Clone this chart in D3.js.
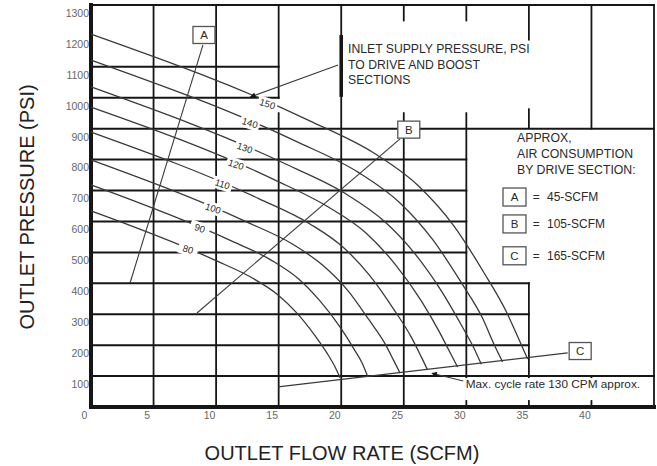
<!DOCTYPE html>
<html><head><meta charset="utf-8">
<script src="https://cdn.jsdelivr.net/npm/d3@7"></script>
<style>
body{margin:0;background:#fff}
svg{display:block;font-family:"Liberation Sans",Arial,Helvetica,sans-serif}
</style>
</head><body>
<svg id="chart" width="657" height="466"></svg>
<script>
// ---------------- data ----------------
const flowTicks = [0, 5, 10, 15, 20, 25, 30, 35, 40];
const psiTicks = [100, 200, 300, 400, 500, 600, 700, 800, 900, 1000, 1100, 1200, 1300];
const curveNames = ["80", "90", "100", "110", "120", "130", "140", "150"];
// [flow SCFM, outlet pressure PSI]
const c80  = [[0,634],[9.9,475],[12.9,417],[14.9,364],[16.5,302],[17.9,231],[18.9,172],[19.5,130],[19.9,95]];
const c90  = [[0,718],[11.0,541],[14.4,475],[16.6,414],[18.3,343],[19.9,259],[21.0,189],[21.7,140],[22.1,100]];
const c100 = [[0,799],[12.3,601],[16.1,527],[18.5,459],[20.5,378],[22.2,283],[23.5,205],[24.2,150],[24.7,110]];
const c110 = [[0,889],[13.4,674],[17.5,592],[20.2,515],[22.3,424],[24.2,316],[25.6,226],[26.4,162],[26.9,120]];
const c120 = [[0,970],[14.6,736],[19.0,646],[22.0,562],[24.3,462],[26.4,343],[27.8,246],[28.7,176],[29.3,129]];
const c130 = [[0,1035],[15.6,785],[20.3,691],[23.4,602],[25.9,495],[28.1,369],[29.6,265],[30.6,191],[31.2,138]];
const c140 = [[0,1122],[16.4,859],[21.4,758],[24.7,660],[27.3,542],[29.6,402],[31.3,287],[32.2,204],[32.9,146]];
const c150 = [[0,1206],[17.4,927],[22.7,819],[26.2,714],[29.0,586],[31.4,435],[33.2,308],[34.2,219],[34.9,155]];
const curveLabelFlow = [7.75, 8.7, 9.75, 10.5, 11.6, 12.3, 12.7, 14.1];
// grid segments: [psi, fromFlow, toFlow] and [flow, fromPsi, toPsi]
const hGrid = [[1300,0,45],[1100,0,15],[1000,0,15],[900,0,45],[800,0,30],[700,0,30],[600,0,30],[500,0,30],[400,0,35],[300,0,35],[200,0,35],[100,0,45]];
const vGrid = [[5,0,1300],[10,0,1300],[15,1000,1300],[15,0,950],[20,0,1300],[25,1250,1300],[25,0,950],[30,1250,1300],[30,0,950],[35,1188,1300],[35,902,1025],[35,0,400],[40,900,1300],[40,0,100],[45,0,1300]];
const driveSections = ["A", "B", "C"];
const driveConsumption = ["45-SCFM", "105-SCFM", "165-SCFM"];

// ---------------- drawing ----------------
const svg = d3.select("#chart");
const x = d3.scaleLinear().domain([0, 45]).range([91, 654]);
const y = d3.scaleLinear().domain([0, 1300]).range([407, 5]);
const ink = "#161616", soft = "#3a3a3a", txt = "#2a2a2a";
const FONT = '"Liberation Sans",Arial,Helvetica,sans-serif';

svg.append("rect").attr("width", 657).attr("height", 466).attr("fill", "#fff");

const defs = svg.append("defs");
defs.append("marker").attr("id", "ah").attr("viewBox", "0 0 10 10").attr("refX", 9).attr("refY", 5)
  .attr("markerWidth", 7).attr("markerHeight", 5).attr("orient", "auto")
  .append("path").attr("d", "M0,0L10,5L0,10Z").attr("fill", ink);

// grid
const grid = svg.append("g");
grid.selectAll("line.h").data(hGrid).join("line").attr("class", "h")
  .attr("x1", d => x(d[1])).attr("x2", d => x(d[2]))
  .attr("y1", d => y(d[0])).attr("y2", d => y(d[0]))
  .attr("stroke", ink).attr("stroke-width", 2).attr("stroke-linecap", "square");
grid.selectAll("line.v").data(vGrid).join("line").attr("class", "v")
  .attr("x1", d => x(d[0])).attr("x2", d => x(d[0]))
  .attr("y1", d => y(d[1])).attr("y2", d => y(d[2]))
  .attr("stroke", ink).attr("stroke-width", 1.8).attr("stroke-linecap", "square");
// main axes (thick)
grid.append("line").attr("x1", x(0)).attr("x2", x(0)).attr("y1", y(0)).attr("y2", y(1300))
  .attr("stroke", ink).attr("stroke-width", 4).attr("stroke-linecap", "square");
grid.append("line").attr("x1", x(0)).attr("x2", x(45)).attr("y1", y(0)).attr("y2", y(0))
  .attr("stroke", ink).attr("stroke-width", 4).attr("stroke-linecap", "square");

// curves
const curves = [c80, c90, c100, c110, c120, c130, c140, c150];
const line = d3.line().x(d => x(d[0])).y(d => y(d[1])).curve(d3.curveMonotoneX);
svg.append("g").selectAll("path").data(curves).join("path")
  .attr("d", line).attr("fill", "none").attr("stroke", soft).attr("stroke-width", 1.3);

// leader lines
const leaders = svg.append("g").attr("stroke", soft).attr("stroke-width", 1.1);
leaders.append("line").attr("x1", x(8.95)).attr("y1", y(1171)).attr("x2", x(3.12)).attr("y2", y(401));
leaders.append("line").attr("x1", x(24.7)).attr("y1", y(867)).attr("x2", x(8.47)).attr("y2", y(304));
leaders.append("line").attr("x1", x(38.1)).attr("y1", y(175)).attr("x2", x(14.95)).attr("y2", y(65));

// inlet-pressure bar, text block and arrow
svg.append("rect").attr("x", x(20.55) - 3).attr("y", y(1134)).attr("width", 198).attr("height", 52).attr("fill", "#fff");
svg.append("line").attr("x1", x(20)).attr("x2", x(20)).attr("y1", y(1203)).attr("y2", y(1003))
  .attr("stroke", ink).attr("stroke-width", 3.6);
svg.append("line").attr("x1", x(19.75)).attr("y1", y(1106)).attr("x2", x(12.75)).attr("y2", y(1003))
  .attr("stroke", soft).attr("stroke-width", 1.1).attr("marker-end", "url(#ah)");
const inlet = svg.append("text").attr("x", x(20.55)).attr("y", y(1144))
  .attr("font-size", 12.2).attr("fill", txt).attr("font-family", FONT);
["INLET SUPPLY PRESSURE, PSI", "TO DRIVE AND BOOST", "SECTIONS"].forEach((s, i) =>
  inlet.append("tspan").attr("x", x(20.55)).attr("dy", i ? 15.5 : 0).text(s));

// max cycle rate note
svg.append("rect").attr("x", x(29.9)).attr("y", y(100) + 2).attr("width", x(45) - x(29.9) - 1).attr("height", 22).attr("fill", "#fff");
svg.append("text").attr("x", x(29.95)).attr("y", y(62)).attr("font-size", 11.8).attr("fill", txt)
  .attr("font-family", FONT).text("Max. cycle rate 130 CPM approx.");
svg.append("line").attr("x1", x(29.75)).attr("y1", y(84)).attr("x2", x(27.25)).attr("y2", y(109))
  .attr("stroke", soft).attr("stroke-width", 1.1).attr("marker-end", "url(#ah)");

// curve labels
function interp(pts, f) {
  for (let i = 1; i < pts.length; i++) {
    if (f <= pts[i][0]) {
      const t = (f - pts[i-1][0]) / (pts[i][0] - pts[i-1][0]);
      return pts[i-1][1] + t * (pts[i][1] - pts[i-1][1]);
    }
  }
  return pts[pts.length - 1][1];
}
const lab = svg.append("g");
curves.forEach((pts, i) => {
  const f = curveLabelFlow[i], p = interp(pts, f);
  const gg = lab.append("g").attr("transform", `translate(${x(f)},${y(p)}) rotate(18)`);
  gg.append("rect").attr("x", -10).attr("y", -6).attr("width", 20).attr("height", 12).attr("fill", "#fff");
  gg.append("text").attr("text-anchor", "middle").attr("dy", "0.35em").attr("font-size", 9.5)
    .attr("fill", txt).attr("font-family", FONT).text(curveNames[i]);
});

// A / B / C boxes on chart
const boxPos = [[9.03, 1203], [25.4, 897], [39.1, 181]];
const boxes = svg.append("g");
boxPos.forEach((bp, i) => {
  const gg = boxes.append("g").attr("transform", `translate(${x(bp[0])},${y(bp[1])})`);
  gg.append("rect").attr("x", -11).attr("y", -8.5).attr("width", 22).attr("height", 17)
    .attr("fill", "#fff").attr("stroke", "#555").attr("stroke-width", 1.3);
  gg.append("text").attr("text-anchor", "middle").attr("dy", "0.36em").attr("font-size", 11.5)
    .attr("fill", txt).attr("font-family", FONT).text(driveSections[i]);
});

// legend
const leg = svg.append("text").attr("x", x(34.05)).attr("y", y(857)).attr("font-size", 12.3)
  .attr("fill", txt).attr("font-family", FONT);
["APPROX,", "AIR CONSUMPTION", "BY DRIVE SECTION:"].forEach((s, i) =>
  leg.append("tspan").attr("x", x(34.05)).attr("dy", i ? 16 : 0).text(s));
const legRows = [679, 592, 489];
legRows.forEach((p, i) => {
  const gg = svg.append("g").attr("transform", `translate(0,${y(p)})`);
  gg.append("rect").attr("x", x(32.93)).attr("y", -9).attr("width", 23).attr("height", 18)
    .attr("fill", "#fff").attr("stroke", "#555").attr("stroke-width", 1.3);
  gg.append("text").attr("x", x(32.93) + 11.5).attr("text-anchor", "middle").attr("dy", "0.36em")
    .attr("font-size", 11.5).attr("fill", txt).attr("font-family", FONT).text(driveSections[i]);
  gg.append("text").attr("x", x(35.3)).attr("dy", "0.36em").attr("font-size", 12)
    .attr("fill", txt).attr("font-family", FONT).text("=");
  gg.append("text").attr("x", x(36.45)).attr("dy", "0.36em").attr("font-size", 12)
    .attr("fill", txt).attr("font-family", FONT).text(driveConsumption[i]);
});

// axes tick labels (offset from the grid like the original print)
const ya = svg.append("g").attr("transform", `translate(${x(0) - 2},8)`)
  .call(d3.axisLeft(y).tickValues(psiTicks).tickFormat(d3.format("d")).tickSize(0).tickPadding(0));
ya.select(".domain").remove();
ya.attr("font-family", FONT).attr("font-size", 10.5).selectAll("text").attr("fill", "#666");
const xa = svg.append("g").attr("transform", `translate(-7,${y(0)})`)
  .call(d3.axisBottom(x).tickValues(flowTicks).tickFormat(d3.format("d")).tickSize(0).tickPadding(5));
xa.select(".domain").remove();
xa.attr("font-family", FONT).attr("font-size", 10.5).selectAll("text").attr("fill", "#666");

// titles
svg.append("text").attr("transform", "translate(34,207) rotate(-90)").attr("text-anchor", "middle")
  .attr("font-size", 20).attr("fill", "#222").attr("font-family", FONT).text("OUTLET PRESSURE (PSI)");
svg.append("text").attr("x", 342).attr("y", 460).attr("text-anchor", "middle")
  .attr("font-size", 20).attr("fill", "#222").attr("font-family", FONT).text("OUTLET FLOW RATE (SCFM)");
</script>
</body></html>
